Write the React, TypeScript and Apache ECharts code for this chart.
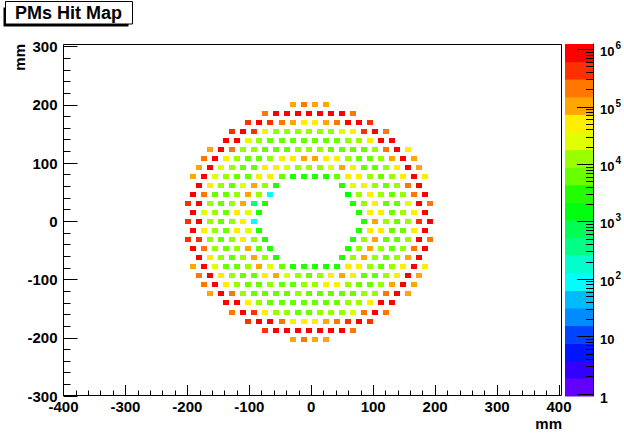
import React, { useEffect, useRef } from "react";
import * as echarts from "echarts";

// ---------- data ----------
// y position of each row of PMs (mm), top row first
const rowY = [
  200.7, 185.2, 169.7, 154.2, 138.7, 123.2, 107.7, 92.2, 76.7, 61.2, 45.7, 30.2, 14.7, -0.8,
  -16.3, -31.8, -47.3, -62.8, -78.3, -93.8, -109.3, -124.8, -140.3, -155.8, -171.3, -186.8, -202.3,
];
// x position (mm) of the first PM of each row
const rowX0 = [
  -30.2, -74.7, -101.4, -128.1, -137, -163.7, -172.6, -181.5, -190.4, -181.5, -190.4, -199.3, -190.4, -199.3,
  -190.4, -199.3, -190.4, -181.5, -190.4, -181.5, -172.6, -163.7, -137, -128.1, -101.4, -74.7, -30.2,
];
const COL_STEP = 17.8; // mm between neighbouring PMs of a row
const N = null;

// hits per PM, row by row (null = no PM, central hole)
const hitsP13 = [100000, 210000, 100000, 100000];
const hitsP12 = [210000, 860000, 860000, 860000, 860000, 860000, 860000, 860000, 210000];
const hitsP11 = [430000, 860000, 430000, 210000, 100000, 51000, 51000, 100000, 210000, 860000, 860000, 430000];
const hitsP10 = [430000, 860000, 430000, 51000, 12500, 12500, 12500, 12500, 12500, 12500, 25000, 51000, 430000, 860000, 210000];
const hitsP9 = [860000, 860000, 25000, 12500, 6200, 6200, 6200, 6200, 6200, 6200, 6200, 12500, 12500, 51000, 860000, 860000];
const hitsP8 = [100000, 860000, 210000, 12500, 12500, 6200, 6200, 6200, 12500, 12500, 12500, 6200, 6200, 6200, 6200, 12500, 210000, 860000, 51000];
const hitsP7 = [210000, 860000, 51000, 12500, 6200, 6200, 12500, 51000, 51000, 100000, 100000, 51000, 51000, 12500, 6200, 6200, 12500, 100000, 860000, 100000];
const hitsP6 = [100000, 860000, 25000, 12500, 6200, 6200, 51000, 51000, 25000, 12500, 12500, 12500, 25000, 100000, 51000, 6200, 6200, 12500, 51000, 860000, 100000];
const hitsP5 = [100000, 860000, 25000, 12500, 6200, 6200, 51000, 51000, 6200, 3100, 3100, 3100, 3100, 6200, 51000, 51000, 12500, 6200, 12500, 51000, 860000, 51000];
const hitsP4 = [860000, 51000, 12500, 6200, 25000, 100000, 12500, 3100, N, N, N, N, N, 3100, 25000, 51000, 12500, 6200, 12500, 210000, 860000];
const hitsP3 = [860000, 210000, 6200, 6200, 12500, 100000, 12500, 90, N, N, N, N, N, N, 1500, 12500, 51000, 12500, 6200, 12500, 210000, 860000];
const hitsP2 = [430000, 860000, 12500, 6200, 12500, 100000, 370, 3100, N, N, N, N, N, N, N, 3100, 12500, 51000, 6200, 6200, 25000, 860000, 210000];
const hitsP1 = [860000, 25000, 12500, 6200, 51000, 25000, 3100, N, N, N, N, N, N, N, N, 3100, 51000, 51000, 6200, 12500, 51000, 860000];
const hits0 = [430000, 860000, 12500, 6200, 12500, 51000, 90, N, N, N, N, N, N, N, N, N, 3100, 100000, 12500, 6200, 12500, 430000, 860000];
const hitsM1 = [860000, 51000, 12500, 6200, 51000, 25000, 3100, N, N, N, N, N, N, N, N, 3100, 51000, 51000, 6200, 6200, 51000, 860000];
const hitsM2 = [430000, 430000, 12500, 6200, 12500, 51000, 12500, 3100, N, N, N, N, N, N, N, 3100, 12500, 100000, 6200, 6200, 12500, 860000, 210000];
const hitsM3 = [860000, 210000, 12500, 6200, 12500, 100000, 6200, 3100, N, N, N, N, N, N, 3100, 12500, 100000, 12500, 6200, 12500, 210000, 860000];
const hitsM4 = [860000, 51000, 12500, 6200, 12500, 100000, 12500, 3100, N, N, N, N, N, 3100, 12500, 100000, 12500, 6200, 12500, 100000, 860000];
const hitsM5 = [100000, 860000, 25000, 6200, 6200, 12500, 100000, 25000, 6200, 3100, 3100, 3100, 3100, 3100, 51000, 51000, 12500, 6200, 12500, 51000, 860000, 51000];
const hitsM6 = [210000, 860000, 51000, 12500, 6200, 6200, 51000, 100000, 25000, 12500, 6200, 12500, 51000, 100000, 51000, 6200, 6200, 12500, 51000, 860000, 100000];
const hitsM7 = [210000, 860000, 51000, 12500, 6200, 6200, 12500, 6200, 6200, 12500, 12500, 51000, 51000, 12500, 6200, 6200, 12500, 100000, 860000, 100000];
const hitsM8 = [100000, 860000, 210000, 12500, 6200, 6200, 6200, 6200, 12500, 6200, 6200, 6200, 6200, 6200, 12500, 12500, 210000, 860000, 100000];
const hitsM9 = [860000, 860000, 51000, 12500, 6200, 6200, 6200, 6200, 6200, 6200, 6200, 12500, 12500, 51000, 860000, 860000];
const hitsM10 = [210000, 860000, 430000, 51000, 12500, 12500, 6200, 6200, 12500, 12500, 12500, 25000, 210000, 860000, 210000];
const hitsM11 = [430000, 860000, 860000, 210000, 51000, 51000, 51000, 100000, 210000, 430000, 860000, 430000];
const hitsM12 = [430000, 860000, 860000, 860000, 860000, 860000, 860000, 860000, 210000];
const hitsM13 = [100000, 210000, 100000, 100000];

const hitRows = [
  hitsP13, hitsP12, hitsP11, hitsP10, hitsP9, hitsP8, hitsP7, hitsP6, hitsP5, hitsP4, hitsP3, hitsP2, hitsP1, hits0,
  hitsM1, hitsM2, hitsM3, hitsM4, hitsM5, hitsM6, hitsM7, hitsM8, hitsM9, hitsM10, hitsM11, hitsM12, hitsM13,
];

// z colour scale (log), 20 contours, ROOT "pretty" palette violet -> red
const Z_LOG_MIN = -0.04;
const Z_LOG_MAX = 6.09;
const palette = [
  "#6300ff", "#3300ff", "#0014ff", "#0044ff", "#008bff", "#00bbff", "#00fffc", "#00ffcc", "#00ff85", "#00ff55",
  "#00ff0e", "#22ff00", "#69ff00", "#99ff00", "#e0ff00", "#ffee00", "#ffa700", "#ff7700", "#ff3000", "#ff0000",
];
const zDecades = [0, 1, 2, 3, 4, 5, 6];

const CELL_W = 9.7; // mm
const CELL_H = 8.6; // mm
const FONT = '"Liberation Sans", Arial, Helvetica, sans-serif';

const BAND = (Z_LOG_MAX - Z_LOG_MIN) / palette.length;
function colorOf(v: number) {
  let j = Math.floor((Math.log10(v) - Z_LOG_MIN) / BAND);
  if (j < 0) j = 0;
  if (j > palette.length - 1) j = palette.length - 1;
  return palette[j];
}

function buildCells() {
  const out: number[][] = [];
  hitRows.forEach((row, i) => {
    row.forEach((v, j) => {
      if (v != null) out.push([rowX0[i] + j * COL_STEP, rowY[i], v]);
    });
  });
  return out;
}

function buildZTicks() {
  const out: number[][] = [];
  for (let e = 0; e < 6; e++) {
    for (let m = 1; m <= 9; m++) out.push([m * Math.pow(10, e), m === 1 ? 1 : 0]);
  }
  out.push([1e6, 1]);
  return out;
}

function txt(x: number, y: number, text: string, size: number, align: string, valign: string) {
  return {
    type: "text",
    x,
    y,
    style: {
      text,
      fill: "#000",
      fontSize: size,
      fontWeight: "bold",
      fontFamily: FONT,
      align,
      verticalAlign: valign,
      textAlign: align,
      textVerticalAlign: valign,
    },
  };
}

export default function App() {
  const ref = useRef<HTMLDivElement>(null);

  useEffect(() => {
    if (!ref.current) return;
    const chart = echarts.init(ref.current, undefined, { renderer: "svg" });

    const labelStyle = { color: "#000", fontSize: 15, fontWeight: "bold", fontFamily: FONT };

    const option: any = {
      animation: false,
      backgroundColor: "#fff",
      grid: [
        { left: 63.5, top: 46.5, width: 495.5, height: 349.5, show: false },
        { left: 565, top: 44, width: 28, height: 352, show: false },
      ],
      xAxis: [
        {
          type: "value",
          gridIndex: 0,
          position: "bottom",
          min: -400,
          max: 400,
          interval: 100,
          axisLine: { show: false, onZero: false },
          axisTick: { show: true, inside: true, length: 11, lineStyle: { color: "#000", width: 1 } },
          minorTick: { show: true, splitNumber: 5, length: 5.5, lineStyle: { color: "#000", width: 1 } },
          axisLabel: { ...labelStyle, margin: 3, showMinLabel: true, showMaxLabel: true },
          splitLine: { show: false },
        },
        { type: "value", gridIndex: 1, min: 0, max: 1, show: false },
      ],
      yAxis: [
        {
          type: "value",
          gridIndex: 0,
          position: "left",
          min: -300,
          max: 300,
          interval: 100,
          axisLine: { show: false, onZero: false },
          axisTick: { show: true, inside: true, length: 14, lineStyle: { color: "#000", width: 1 } },
          minorTick: { show: true, splitNumber: 5, length: 7, lineStyle: { color: "#000", width: 1 } },
          axisLabel: { ...labelStyle, margin: 6, showMinLabel: true, showMaxLabel: true },
          splitLine: { show: false },
        },
        {
          type: "log",
          gridIndex: 1,
          logBase: 10,
          min: Math.pow(10, Z_LOG_MIN),
          max: Math.pow(10, Z_LOG_MAX),
          position: "right",
          axisLine: { show: true, onZero: false, lineStyle: { color: "#000", width: 1 } },
          axisTick: { show: false },
          axisLabel: { show: false },
          splitLine: { show: false },
        },
      ],
      series: [
        {
          type: "custom",
          name: "PMs",
          xAxisIndex: 0,
          yAxisIndex: 0,
          data: buildCells(),
          renderItem: (params: any, api: any) => {
            const c = api.coord([api.value(0), api.value(1)]);
            const s = api.size([CELL_W, CELL_H]);
            const w = Math.round(s[0]);
            const h = Math.round(s[1]);
            return {
              type: "rect",
              shape: { x: Math.round(c[0] - w / 2), y: Math.round(c[1] - h / 2), width: w, height: h },
              style: { fill: colorOf(api.value(2)) },
            };
          },
        },
        {
          type: "custom",
          name: "palette",
          xAxisIndex: 1,
          yAxisIndex: 1,
          data: palette.map((_, j) => [j]),
          renderItem: (params: any, api: any) => {
            const j = api.value(0);
            const lo = Math.pow(10, Z_LOG_MIN + j * BAND);
            const hi = Math.pow(10, Z_LOG_MIN + (j + 1) * BAND);
            const p0 = api.coord([0, lo]);
            const p1 = api.coord([1, hi]);
            return {
              type: "rect",
              shape: { x: p0[0], y: p1[1], width: p1[0] - p0[0], height: p0[1] - p1[1] + 0.5 },
              style: { fill: palette[j] },
            };
          },
          z: 1,
        },
        {
          type: "custom",
          name: "zticks",
          xAxisIndex: 1,
          yAxisIndex: 1,
          data: buildZTicks(),
          renderItem: (params: any, api: any) => {
            const p = api.coord([1, api.value(0)]);
            const len = api.value(1) ? 16 : 7;
            const y = Math.round(p[1]) + 0.5;
            return {
              type: "line",
              shape: { x1: p[0] - len, y1: y, x2: p[0], y2: y },
              style: { stroke: "#000", lineWidth: 1 },
            };
          },
          z: 3,
        },
        {
          type: "custom",
          name: "zlabels",
          xAxisIndex: 1,
          yAxisIndex: 1,
          data: zDecades.map((e) => [e]),
          renderItem: (params: any, api: any) => {
            const e = api.value(0);
            const p = api.coord([1, Math.pow(10, e)]);
            const x = p[0] + 7;
            if (e === 0) return txt(x, p[1] + 4, "1", 14, "left", "middle");
            if (e === 1) return txt(x, p[1] + 3, "10", 13, "left", "middle");
            return {
              type: "group",
              children: [
                txt(x, p[1] + 2.5, "10", 13, "left", "middle"),
                txt(x + 15.5, p[1] - 3.5, String(e), 10, "left", "middle"),
              ],
            };
          },
          z: 3,
        },
      ],
      graphic: [
        {
          type: "rect",
          z: 100,
          silent: true,
          shape: { x: 63.5, y: 44.5, width: 498, height: 351 },
          style: { fill: "none", stroke: "#000", lineWidth: 1 },
        },
        {
          type: "rect",
          z: 100,
          shape: { x: 3.5, y: 7.5, width: 125, height: 19 },
          style: { fill: "#000" },
        },
        {
          type: "rect",
          z: 101,
          shape: { x: 5.5, y: 1.5, width: 127, height: 22.5 },
          style: { fill: "#fff", stroke: "#000", lineWidth: 1 },
        },
        { ...txt(68.5, 13, "PMs Hit Map", 18, "center", "middle"), z: 102 },
        { ...txt(562, 423, "mm", 15, "right", "middle"), z: 102 },
        { ...txt(19.5, 44, "mm", 15, "right", "middle"), rotation: Math.PI / 2, z: 102 },
      ],
    };

    chart.setOption(option);
    return () => chart.dispose();
  }, []);

  return (
    <div
      ref={ref}
      style={{ position: "fixed", left: 0, top: 0, width: 624, height: 434, background: "#fff" }}
    />
  );
}
